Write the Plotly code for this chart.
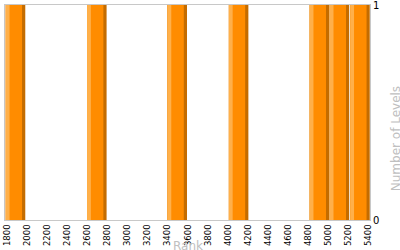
import plotly.graph_objects as go

ranks = [1880, 2692, 3495, 4108, 4915, 5115, 5320]
levels = [1, 1, 1, 1, 1, 1, 1]
x_ticks = list(range(1800, 5401, 200))

BAR_W = 195
DARK = "#C46C00"
MAIN = "#FF8C00"
LIGHT = "#FFB04A"

fig = go.Figure()
fig.add_trace(go.Bar(x=ranks, y=levels, width=BAR_W, offset=-BAR_W / 2,
                     marker=dict(color=DARK, line=dict(width=0)), hoverinfo="x+y"))
fig.add_trace(go.Bar(x=ranks, y=levels, width=BAR_W - 32, offset=-BAR_W / 2,
                     marker=dict(color=MAIN, line=dict(width=0)), hoverinfo="skip"))
fig.add_trace(go.Bar(x=ranks, y=levels, width=38, offset=-BAR_W / 2,
                     marker=dict(color=LIGHT, line=dict(width=0)), hoverinfo="skip"))

fig.update_layout(
    width=400, height=250,
    margin=dict(l=5, r=30, t=5, b=30),
    barmode="overlay",
    showlegend=False,
    plot_bgcolor="white",
    paper_bgcolor="white",
    font=dict(family="DejaVu Sans", color="black"),
    xaxis=dict(range=[1775, 5420], tickvals=x_ticks, ticktext=[str(v) for v in x_ticks],
               tickangle=-90, tickfont=dict(size=8.5), showgrid=False, zeroline=False,
               showline=True, linecolor="#C8C8C8", linewidth=1, mirror=True, ticks="",
               automargin=False, ticklabeloverflow="allow"),
    yaxis=dict(range=[0, 1], side="right", tickvals=[0, 1], tickfont=dict(size=10),
               showgrid=False, zeroline=False, showline=True, linecolor="#C8C8C8",
               linewidth=1, mirror=True, ticks="", automargin=False,
               ticklabeloverflow="allow"),
    annotations=[
        dict(text="Rank", xref="paper", yref="paper", x=0.5, y=-0.08, xanchor="center",
             yanchor="top", showarrow=False, font=dict(size=12, color="#C0C0C0")),
        dict(text="Number of Levels", xref="paper", yref="paper", x=1.071, y=0.38,
             xanchor="center", yanchor="middle", textangle=-90, showarrow=False,
             font=dict(size=12, color="#C0C0C0")),
    ],
)

fig.write_html("out.html")
